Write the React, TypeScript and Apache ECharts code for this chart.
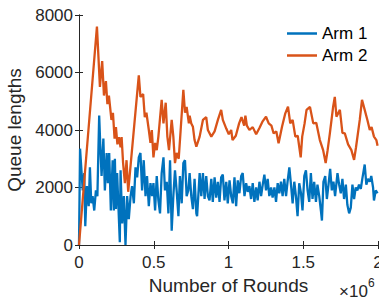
import React, { useEffect, useRef } from "react";
import * as echarts from "echarts";

// x in units of 10^6 rounds
const arm1X = [0, 0.007, 0.025, 0.035, 0.042, 0.053, 0.065, 0.073, 0.082, 0.091, 0.102, 0.113, 0.123, 0.135, 0.142, 0.151, 0.163, 0.173, 0.185, 0.193, 0.202, 0.213, 0.225, 0.233, 0.24, 0.247, 0.255, 0.273, 0.278, 0.289, 0.3, 0.311, 0.322, 0.333, 0.345, 0.355, 0.367, 0.378, 0.389, 0.4, 0.411, 0.422, 0.433, 0.445, 0.455, 0.467, 0.478, 0.489, 0.498, 0.509, 0.52, 0.531, 0.542, 0.553, 0.565, 0.575, 0.587, 0.598, 0.609, 0.62, 0.631, 0.642, 0.653, 0.665, 0.675, 0.687, 0.698, 0.709, 0.72, 0.731, 0.74, 0.751, 0.762, 0.773, 0.785, 0.79, 0.807, 0.818, 0.829, 0.84, 0.851, 0.862, 0.873, 0.885, 0.895, 0.907, 0.918, 0.929, 0.94, 0.951, 0.962, 0.973, 0.985, 0.995, 1.007, 1.018, 1.029, 1.04, 1.051, 1.062, 1.073, 1.085, 1.095, 1.107, 1.118, 1.129, 1.14, 1.151, 1.162, 1.173, 1.185, 1.195, 1.207, 1.218, 1.229, 1.24, 1.251, 1.262, 1.273, 1.285, 1.295, 1.307, 1.318, 1.329, 1.34, 1.351, 1.362, 1.373, 1.385, 1.395, 1.407, 1.418, 1.429, 1.44, 1.451, 1.462, 1.473, 1.485, 1.495, 1.507, 1.518, 1.529, 1.54, 1.551, 1.562, 1.573, 1.585, 1.595, 1.607, 1.618, 1.625, 1.635, 1.647, 1.658, 1.669, 1.68, 1.691, 1.702, 1.713, 1.729, 1.74, 1.751, 1.762, 1.773, 1.785, 1.795, 1.807, 1.818, 1.829, 1.84, 1.851, 1.862, 1.873, 1.885, 1.895, 1.911, 1.922, 1.933, 1.945, 1.955, 1.967, 1.973, 1.985, 1.997];
const arm1Y = [0, 3350, 1900, 2500, 650, 2050, 1350, 2700, 1450, 1700, 1200, 1900, 1700, 4500, 3500, 2400, 3700, 1900, 3200, 2150, 3200, 1200, 2950, 1200, 3000, 1250, 2500, 100, 2600, 750, 1700, 0, 1700, 900, 1700, 2050, 1450, 2700, 2350, 3050, 3200, 1900, 2950, 1700, 2400, 1350, 2150, 1700, 2150, 1200, 2400, 1550, 1100, 2500, 3050, 1900, 2200, 1100, 2950, 500, 1700, 2600, 1900, 1000, 2400, 1450, 2850, 2950, 1700, 1900, 2500, 1700, 1250, 2300, 1100, 1000, 2500, 1700, 2500, 1600, 2400, 1700, 1550, 2300, 1500, 2350, 1650, 2200, 1500, 2350, 2450, 1550, 2200, 1450, 2250, 1700, 1450, 2350, 1350, 2250, 1800, 2400, 2500, 1700, 2150, 1850, 2050, 1600, 2150, 1500, 2000, 1550, 2200, 1700, 2100, 2450, 1900, 2300, 1700, 2000, 1650, 2000, 1500, 2150, 1800, 2200, 1700, 2300, 1700, 2200, 2700, 2100, 1450, 2200, 1700, 1000, 2150, 1800, 1200, 2400, 2600, 1900, 1500, 2500, 1600, 2200, 1500, 2100, 1700, 1200, 850, 2200, 2400, 1600, 2100, 2650, 1900, 2200, 1700, 2500, 2100, 1800, 2300, 1600, 2100, 1400, 1100, 1300, 2100, 1600, 2000, 1900, 2100, 1950, 2300, 2800, 2100, 2300, 2200, 2400, 2000, 1550, 1900, 1800];

const arm2X = [0, 0.12, 0.14, 0.155, 0.167, 0.18, 0.19, 0.2, 0.217, 0.227, 0.238, 0.247, 0.257, 0.267, 0.278, 0.285, 0.295, 0.307, 0.318, 0.329, 0.4, 0.411, 0.429, 0.44, 0.451, 0.467, 0.478, 0.487, 0.498, 0.509, 0.52, 0.531, 0.553, 0.565, 0.58, 0.591, 0.602, 0.62, 0.631, 0.642, 0.653, 0.667, 0.68, 0.698, 0.709, 0.72, 0.735, 0.74, 0.751, 0.762, 0.773, 0.785, 0.807, 0.829, 0.851, 0.862, 0.885, 0.907, 0.929, 0.951, 0.962, 0.985, 1.002, 1.018, 1.027, 1.049, 1.071, 1.087, 1.105, 1.113, 1.123, 1.14, 1.162, 1.185, 1.207, 1.227, 1.251, 1.269, 1.287, 1.302, 1.32, 1.335, 1.358, 1.38, 1.398, 1.413, 1.429, 1.447, 1.463, 1.483, 1.493, 1.509, 1.522, 1.545, 1.567, 1.587, 1.611, 1.633, 1.65, 1.663, 1.678, 1.7, 1.711, 1.722, 1.745, 1.762, 1.778, 1.8, 1.822, 1.84, 1.853, 1.878, 1.893, 1.911, 1.929, 1.945, 1.957, 1.973, 1.989, 1.997];
const arm2Y = [0, 7600, 5500, 6400, 5200, 5700, 4900, 5200, 4350, 4600, 3700, 4100, 3500, 3750, 3400, 3750, 2850, 2150, 2950, 1850, 5900, 5150, 5250, 4450, 4600, 4000, 3550, 4000, 3050, 3550, 3300, 3770, 5050, 4230, 4950, 3770, 3300, 4350, 3770, 2850, 3200, 3000, 4000, 5400, 4600, 4800, 4230, 4500, 4230, 4110, 3650, 3420, 3770, 4350, 4450, 4000, 3770, 3950, 4350, 4700, 4350, 4050, 3850, 4000, 3650, 3800, 4230, 4450, 4150, 4500, 4150, 4000, 4100, 3850, 4070, 4290, 4460, 4230, 4150, 3880, 3950, 3540, 4110, 4580, 4810, 4230, 4350, 3770, 3800, 3050, 3770, 4230, 4700, 4800, 4230, 4250, 3650, 3300, 2850, 3300, 3880, 4810, 5150, 4460, 4700, 3900, 3880, 3500, 3300, 2960, 3400, 4350, 5050, 4700, 4350, 4000, 4100, 3770, 3650, 3450];

const seriesNames = ["Arm 1", "Arm 2"];
const xTicks = { min: 0, max: 2, interval: 0.5 };
const yTicks = { min: 0, max: 8000, interval: 2000 };

const FONT = "Liberation Sans, Arial, Helvetica, sans-serif";
const AX = "#262626";

export default function App() {
  const ref = useRef<HTMLDivElement>(null);
  useEffect(() => {
    if (!ref.current) return;
    const chart = echarts.init(ref.current, null, { renderer: "svg" });
    const zip = (xs: number[], ys: number[]) => xs.map((x, i) => [x, ys[i]]);
    const axisCommon = {
      axisLine: { show: true, lineStyle: { color: AX, width: 1 } },
      axisTick: { show: true, inside: true, length: 4, lineStyle: { color: AX } },
      splitLine: { show: false },
    };
    chart.setOption({
      animation: false,
      backgroundColor: "#fff",
      grid: { left: 79, right: 1, top: 15, bottom: 56, outerBoundsMode: "none", containLabel: false },
      legend: {
        orient: "vertical",
        left: 287,
        top: 25,
        padding: 0,
        itemWidth: 30,
        itemHeight: 2.5,
        itemGap: 5,
        icon: "rect",
        data: seriesNames,
        textStyle: { fontSize: 17, color: "#000", fontFamily: FONT, lineHeight: 16 },
      },
      xAxis: [
        {
          type: "value",
          ...xTicks,
          position: "bottom",
          ...axisCommon,
          axisLabel: { fontSize: 17, color: AX, fontFamily: FONT, margin: 9, formatter: (v: number) => String(v) },
          name: "Number of Rounds",
          nameLocation: "middle",
          nameGap: 30,
          nameTextStyle: { fontSize: 19, color: AX, fontFamily: FONT },
        },
        { type: "value", ...xTicks, position: "top", ...axisCommon, axisLabel: { show: false } },
      ],
      yAxis: [
        {
          type: "value",
          ...yTicks,
          position: "left",
          ...axisCommon,
          axisLabel: { fontSize: 17, color: AX, fontFamily: FONT, margin: 6, formatter: (v: number) => String(v) },
          name: "Queue lengths",
          nameLocation: "middle",
          nameGap: 46,
          nameTextStyle: { fontSize: 19, color: AX, fontFamily: FONT },
        },
        { type: "value", ...yTicks, position: "right", ...axisCommon, axisLabel: { show: false } },
      ],
      graphic: [
        { type: "text", left: 339, top: 283, style: { text: "×10", fontSize: 17, fill: AX, fontFamily: FONT } },
        { type: "text", left: 368, top: 277, style: { text: "6", fontSize: 12, fill: AX, fontFamily: FONT } },
      ],
      series: [
        {
          name: seriesNames[0],
          type: "line",
          data: zip(arm1X, arm1Y),
          showSymbol: false,
          symbol: "none",
          lineStyle: { width: 2.3, color: "#0072BD" },
          itemStyle: { color: "#0072BD" },
        },
        {
          name: seriesNames[1],
          type: "line",
          data: zip(arm2X, arm2Y),
          showSymbol: false,
          symbol: "none",
          lineStyle: { width: 2.3, color: "#D95319" },
          itemStyle: { color: "#D95319" },
        },
      ],
    });
    return () => chart.dispose();
  }, []);
  return <div ref={ref} style={{ position: "fixed", left: 0, top: 0, width: 379, height: 301 }} />;
}
